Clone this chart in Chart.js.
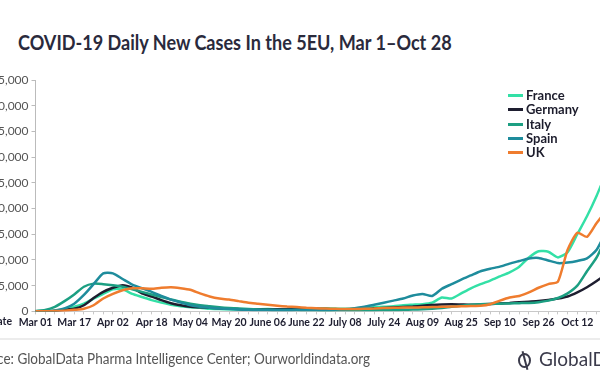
<!DOCTYPE html>
<html>
<head>
<meta charset="utf-8">
<script src="https://cdn.jsdelivr.net/npm/chart.js@4.4.0/dist/chart.umd.min.js"></script>
<style>
  html, body { margin: 0; padding: 0; background: #fff; }
  body { width: 600px; height: 380px; position: relative; overflow: hidden; font-family: Lato, "Open Sans", sans-serif; }
  #title { position: absolute; left: 18px; top: 29px; font-size: 21px; font-weight: 700; color: #2a2a3c; white-space: nowrap; transform: scaleX(0.86); transform-origin: left center; }
  #dot { position: absolute; left: -12px; top: 34px; width: 12px; height: 16px; border: 2.5px solid #2a2a3c; border-radius: 50%; box-sizing: border-box; }
  #wrap { position: absolute; left: -12px; top: 60px; width: 640px; height: 280px; }
  #legend { position: absolute; left: 508px; top: 88px; }
  #legend div { height: 14.3px; line-height: 14.3px; font-size: 13px; font-weight: 700; color: #1c1c2c; white-space: nowrap; }
  #legend span { display: inline-block; width: 15px; height: 3px; vertical-align: middle; margin-right: 3px; position: relative; top: -1px; }
  #datelbl { position: absolute; right: 588px; top: 315px; font-size: 10.5px; font-weight: 700; color: #1e1e30; }
  #sep { position: absolute; left: 0; top: 338px; width: 600px; height: 2px; background: #ececec; }
  #source { position: absolute; left: -30px; top: 349px; font-size: 15px; color: #555; white-space: nowrap; transform: scaleX(0.9); transform-origin: left center; }
  #logo { position: absolute; left: 518px; top: 347px; font-size: 19px; color: #3b3b4b; white-space: nowrap; }
  #logo i { display: inline-block; width: 13px; height: 15px; border: 2px solid #3b3b4b; border-radius: 50%; box-sizing: border-box; vertical-align: -2px; margin-right: 8px; position: relative; }
  #logo i:after { content: ""; position: absolute; left: 3.5px; top: -4px; width: 2px; height: 19px; background: #3b3b4b; transform: rotate(-15deg); }
</style>
</head>
<body>
<div id="dot"></div>
<div id="title">COVID-19 Daily New Cases In the 5EU, Mar 1–Oct 28</div>
<div id="wrap"><canvas id="myChart" width="640" height="280"></canvas></div>
<div id="legend"></div>
<div id="datelbl">Date</div>
<div id="sep"></div>
<div id="source">Source: GlobalData Pharma Intelligence Center; Ourworldindata.org</div>
<div id="logo"><i></i>GlobalData</div>
<script>
// one point every 4 days, Mar 1 to Oct 27
var dates = ["Mar 01","Mar 05","Mar 09","Mar 13","Mar 17","Mar 21","Mar 25","Mar 29","Apr 02","Apr 06",
  "Apr 10","Apr 14","Apr 18","Apr 22","Apr 26","Apr 30","May 04","May 08","May 12","May 16",
  "May 20","May 24","May 28","Jun 01","Jun 05","Jun 09","Jun 13","Jun 17","Jun 21","Jun 25",
  "Jun 29","Jul 03","Jul 07","Jul 11","Jul 15","Jul 19","Jul 23","Jul 27","Jul 31","Aug 04",
  "Aug 08","Aug 12","Aug 16","Aug 20","Aug 24","Aug 28","Sep 01","Sep 05","Sep 09","Sep 13",
  "Sep 17","Sep 21","Sep 25","Sep 29","Oct 03","Oct 07","Oct 11","Oct 15","Oct 19","Oct 23","Oct 27"];

var tickLabels = ["Mar 01","Mar 17","Apr 02","Apr 18","May 04","May 20","June 06","June 22",
  "July 08","July 24","Aug 09","Aug 25","Sep 10","Sep 26","Oct 12"];

var france = [0,20,150,500,900,1500,2500,3400,4300,4300,3400,2800,2200,1700,1300,1000,800,700,500,450,
  400,380,350,400,450,400,400,450,500,550,600,550,500,600,700,800,900,1000,1200,1300,
  1400,1700,2700,2500,3500,4500,5300,6000,6800,7600,8700,10500,11700,11600,10500,11500,15000,18500,22500,27000,31000];
var germany = [0,20,100,300,500,1200,2600,3800,4600,5100,4600,3500,2900,2200,1600,1200,900,800,700,600,
  550,450,400,350,350,400,450,550,600,500,450,400,400,420,450,550,650,750,850,950,
  1100,1250,1350,1400,1350,1300,1350,1450,1550,1650,1800,1900,2000,2200,2500,2900,3700,4700,5900,7300,9000];
var italy = [100,300,900,2000,3300,4800,5400,5300,5100,4800,4300,3800,3300,2800,2300,1900,1500,1200,1000,800,
  650,550,450,350,300,280,270,250,220,200,190,200,210,210,220,240,260,280,300,350,
  400,500,650,900,1100,1300,1400,1450,1500,1550,1600,1650,1800,2100,2600,3500,5000,7800,10500,14500,18500];
var spain = [10,50,200,600,1500,3200,5300,7400,7400,6300,5200,4500,3800,3000,2300,1700,1200,900,700,550,
  450,350,300,280,260,260,280,300,300,320,300,350,400,600,900,1300,1700,2100,2500,3100,
  3400,3000,4400,5300,6200,7000,7800,8300,8700,9300,9800,10300,10400,9900,9400,9500,9800,10300,12000,15500,18000];
var uk = [5,20,60,150,300,500,1200,2500,3400,4100,4500,4500,4400,4600,4700,4500,4200,3500,2900,2500,
  2300,2000,1700,1500,1300,1100,950,850,700,600,550,500,450,450,500,550,650,700,750,750,
  800,850,900,950,1000,1050,1100,1400,2100,2700,3000,3700,4600,5300,5800,12000,15300,14500,17200,19500,21500];

var names = ["France","Germany","Italy","Spain","UK"];
var colors = ["#33e0a6","#1e1e30","#1c9f82","#1e8c9c","#ef7c2e"];
var series = [france, germany, italy, spain, uk];

var datasets = [];
for (var i = 0; i < names.length; i++) {
  datasets.push({
    label: names[i],
    data: series[i],
    borderColor: colors[i],
    backgroundColor: colors[i],
    borderWidth: 2.5,
    pointRadius: 0,
    tension: 0.2
  });
}
// draw UK and France on top like the reference
datasets.reverse();

var legend = document.getElementById("legend");
names.forEach(function(n, i) {
  var row = document.createElement("div");
  row.innerHTML = '<span style="background:' + colors[i] + '"></span>' + n;
  legend.appendChild(row);
});

var ctx = document.getElementById("myChart").getContext('2d');
var myChart = new Chart(ctx, {
  type: 'line',
  data: { labels: dates, datasets: datasets },
  options: {
    responsive: false,
    animation: false,
    devicePixelRatio: 1,
    layout: { padding: { left: 0, right: 12, top: 20, bottom: 9 } },
    plugins: { legend: { display: false }, tooltip: { enabled: false } },
    scales: {
      x: {
        offset: false,
        grid: { display: true, drawOnChartArea: false, drawTicks: true, tickLength: 3, color: "#c8c8c8" },
        border: { color: "#c8c8c8" },
        ticks: {
          autoSkip: false,
          maxRotation: 0,
          padding: 2,
          color: "#1e1e30",
          font: { family: "Lato", size: 10.5, weight: "bold" },
          callback: function(v, idx) { return idx % 4 === 0 ? tickLabels[idx / 4] : ""; }
        }
      },
      y: {
        min: 0,
        max: 45000,
        grid: { display: true, drawOnChartArea: false, drawTicks: true, tickLength: 4, color: "#bbbbbb" },
        border: { color: "#bbbbbb" },
        ticks: {
          stepSize: 5000,
          padding: 3,
          color: "#555555",
          font: { family: "Lato", size: 12 },
          callback: function(v) { return v.toLocaleString("en-US"); }
        }
      }
    }
  }
});
</script>
</body>
</html>
